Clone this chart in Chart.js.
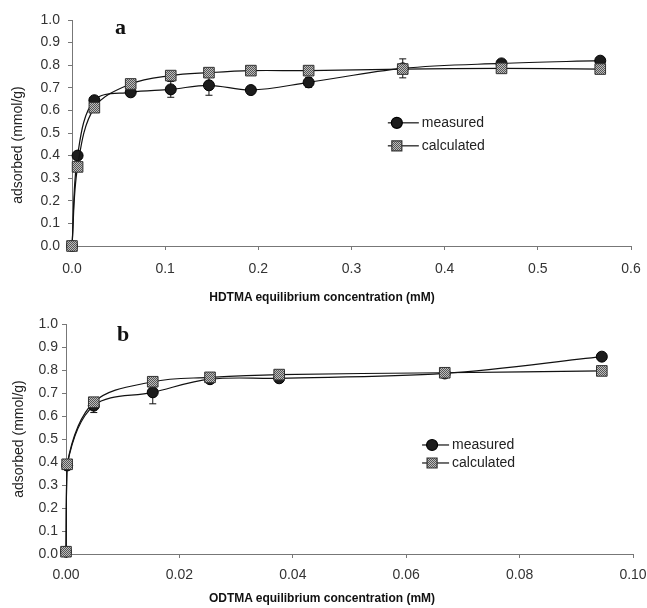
<!DOCTYPE html>
<html>
<head>
<meta charset="utf-8">
<script src="https://cdn.jsdelivr.net/npm/chart.js@4.4.0/dist/chart.umd.min.js"></script>
<style>
  body { margin: 0; background: #fff; }
  #wrap { position: relative; width: 647px; height: 608px; font-family: "Liberation Sans", Arial, sans-serif; }
  .panel { position: absolute; left: 0; width: 647px; }
  .tag { position: absolute; font: bold 22px "Liberation Serif", "DejaVu Serif", serif; line-height: 22px; color: #111; }
  .xt { position: absolute; transform: translate(-50%, -50%); font-weight: bold; font-size: 12px; color: #111; white-space: nowrap; }
  .yt { position: absolute; transform: translate(-50%, -50%) rotate(-90deg); font-size: 14px; color: #222; white-space: nowrap; }
</style>
</head>
<body>
<div id="wrap">
  <div class="panel" style="top:0;height:300px"><canvas id="chartA"></canvas></div>
  <div class="panel" style="top:300px;height:308px"><canvas id="chartB"></canvas></div>
  <div class="tag" style="left:115px;top:16px">a</div>
  <div class="tag" style="left:117px;top:323px">b</div>
  <div class="yt" style="left:17px;top:145px">adsorbed (mmol/g)</div>
  <div class="yt" style="left:18px;top:439px">adsorbed (mmol/g)</div>
  <div class="xt" style="left:322px;top:297px">HDTMA equilibrium concentration (mM)</div>
  <div class="xt" style="left:322px;top:598px">ODTMA equilibrium concentration (mM)</div>
</div>
<script>
// panel a: HDTMA
const xA = [0, 0.006, 0.024, 0.063, 0.106, 0.147, 0.192, 0.254, 0.355, 0.461, 0.567];
const measuredA = [0.00, 0.40, 0.645, 0.68, 0.693, 0.711, 0.69, 0.724, 0.786, 0.808, 0.82];
const errA = [0, 0, 0, 0, 0.035, 0.044, 0, 0.022, 0.042, 0.015, 0.01];
const calculatedA = [0.00, 0.35, 0.612, 0.717, 0.754, 0.767, 0.776, 0.776, 0.783, 0.786, 0.783];

// panel b: ODTMA
const xB = [0, 0.0002, 0.0049, 0.0153, 0.0254, 0.0376, 0.0668, 0.0945];
const measuredB = [0.01, 0.385, 0.645, 0.703, 0.76, 0.764, 0.785, 0.858];
const errB = [0, 0, 0.03, 0.05, 0.01, 0.01, 0.01, 0.01];
const calculatedB = [0.01, 0.39, 0.66, 0.749, 0.768, 0.78, 0.788, 0.796];

const yTicks = [0, 0.1, 0.2, 0.3, 0.4, 0.5, 0.6, 0.7, 0.8, 0.9, 1.0];

Chart.defaults.font.family = "'Liberation Sans', Arial, sans-serif";
Chart.defaults.color = '#333';

// checkered grey fill for the squares
function makePattern() {
  const c = document.createElement('canvas');
  c.width = 2; c.height = 2;
  const g = c.getContext('2d');
  g.fillStyle = '#bdbdbd'; g.fillRect(0, 0, 2, 2);
  g.fillStyle = '#555'; g.fillRect(0, 0, 1, 1); g.fillRect(1, 1, 1, 1);
  return g.createPattern(c, 'repeat');
}
const squareFill = makePattern();

const toXY = (xs, ys) => xs.map((x, i) => ({ x: x, y: ys[i] }));

const errorBars = {
  id: 'errorBars',
  beforeDatasetsDraw(chart) {
    const ctx = chart.ctx;
    chart.data.datasets.forEach((ds, i) => {
      if (!ds.errors) return;
      const xs = chart.scales.x, ys = chart.scales.y;
      ctx.save();
      ctx.strokeStyle = '#111';
      ctx.lineWidth = 1;
      ds.data.forEach((p, j) => {
        const e = ds.errors[j];
        if (!e) return;
        const px = xs.getPixelForValue(p.x);
        const top = ys.getPixelForValue(p.y + e);
        const bot = ys.getPixelForValue(p.y - e);
        ctx.beginPath();
        ctx.moveTo(px, top); ctx.lineTo(px, bot);
        ctx.moveTo(px - 3.5, top); ctx.lineTo(px + 3.5, top);
        ctx.moveTo(px - 3.5, bot); ctx.lineTo(px + 3.5, bot);
        ctx.stroke();
      });
      ctx.restore();
    });
  }
};

const insideLegend = {
  id: 'insideLegend',
  afterDatasetsDraw(chart, args, opts) {
    const ctx = chart.ctx;
    const x0 = chart.scales.x.getPixelForValue(opts.x);
    const y0 = chart.scales.y.getPixelForValue(opts.y);
    chart.data.datasets.forEach((ds, i) => {
      const y = y0 + i * opts.gap;
      ctx.save();
      ctx.strokeStyle = '#111';
      ctx.lineWidth = 1.2;
      ctx.beginPath();
      ctx.moveTo(x0, y); ctx.lineTo(x0 + opts.len, y);
      ctx.stroke();
      const mx = x0 + opts.mark;
      ctx.fillStyle = ds.pointBackgroundColor;
      ctx.strokeStyle = ds.pointBorderColor;
      ctx.beginPath();
      if (ds.pointStyle === 'rect') {
        ctx.rect(mx - 5, y - 5, 10, 10);
      } else {
        ctx.arc(mx, y, 5.5, 0, Math.PI * 2);
      }
      ctx.fill(); ctx.stroke();
      ctx.fillStyle = '#222';
      ctx.font = "14px 'Liberation Sans', Arial, sans-serif";
      ctx.textBaseline = 'middle';
      ctx.fillText(ds.label, x0 + opts.len + 3, y);
      ctx.restore();
    });
  }
};

function makeChart(id, xs, meas, errs, calc, opt) {
  const ctx = document.getElementById(id).getContext('2d');
  return new Chart(ctx, {
    type: 'line',
    data: {
      datasets: [{
        label: 'measured',
        data: toXY(xs, meas),
        errors: errs,
        borderColor: '#111',
        borderWidth: 1.2,
        pointStyle: 'circle',
        pointRadius: 5.5,
        pointBackgroundColor: '#1c1c1c',
        pointBorderColor: '#000',
        pointBorderWidth: 1,
        tension: 0.35,
        fill: false,
        clip: false,
        order: 2
      }, {
        label: 'calculated',
        data: toXY(xs, calc),
        borderColor: '#111',
        borderWidth: 1.2,
        pointStyle: 'rect',
        pointRadius: 7.5,
        pointBackgroundColor: squareFill,
        pointBorderColor: '#333',
        pointBorderWidth: 1,
        tension: 0.35,
        fill: false,
        clip: false,
        order: 1
      }]
    },
    options: {
      responsive: true,
      maintainAspectRatio: false,
      animation: false,
      layout: { padding: { top: opt.top, right: opt.right, left: 0, bottom: 0 } },
      plugins: {
        legend: { display: false },
        tooltip: { enabled: false },
        insideLegend: opt.legend
      },
      scales: {
        x: {
          type: 'linear',
          min: 0,
          max: opt.xMax,
          afterBuildTicks: s => { s.ticks = opt.xTicks.map(v => ({ value: v })); },
          ticks: {
            callback: v => v.toFixed(opt.xDec),
            color: '#333',
            font: { size: 14 },
            padding: opt.xPad,
            maxRotation: 0
          },
          grid: { drawOnChartArea: false, tickLength: 4, color: '#777' },
          border: { color: '#777', width: 1 },
          afterFit: s => { s.height = opt.xH; s.paddingLeft = 0; s.paddingRight = 0; }
        },
        y: {
          min: 0,
          max: 1,
          afterBuildTicks: s => { s.ticks = yTicks.map(v => ({ value: v })); },
          ticks: {
            callback: v => v.toFixed(1),
            color: '#333',
            font: { size: 14 },
            padding: opt.yPad
          },
          grid: { drawOnChartArea: false, tickLength: 4, color: '#777' },
          border: { color: '#777', width: 1 },
          afterFit: s => { s.width = opt.yW; }
        }
      }
    },
    plugins: [errorBars, insideLegend]
  });
}

makeChart('chartA', xA, measuredA, errA, calculatedA, {
  top: 20, right: 16, yW: 72, xH: 54, xMax: 0.6,
  xTicks: [0, 0.1, 0.2, 0.3, 0.4, 0.5, 0.6], xDec: 1, xPad: 11, yPad: 8,
  legend: { x: 0.339, y: 0.545, gap: 23, len: 31, mark: 9 }
});

makeChart('chartB', xB, measuredB, errB, calculatedB, {
  top: 24, right: 14, yW: 66, xH: 54, xMax: 0.10,
  xTicks: [0, 0.02, 0.04, 0.06, 0.08, 0.10], xDec: 2, xPad: 9, yPad: 4,
  legend: { x: 0.0628, y: 0.474, gap: 18, len: 27, mark: 10 }
});
</script>
</body>
</html>
